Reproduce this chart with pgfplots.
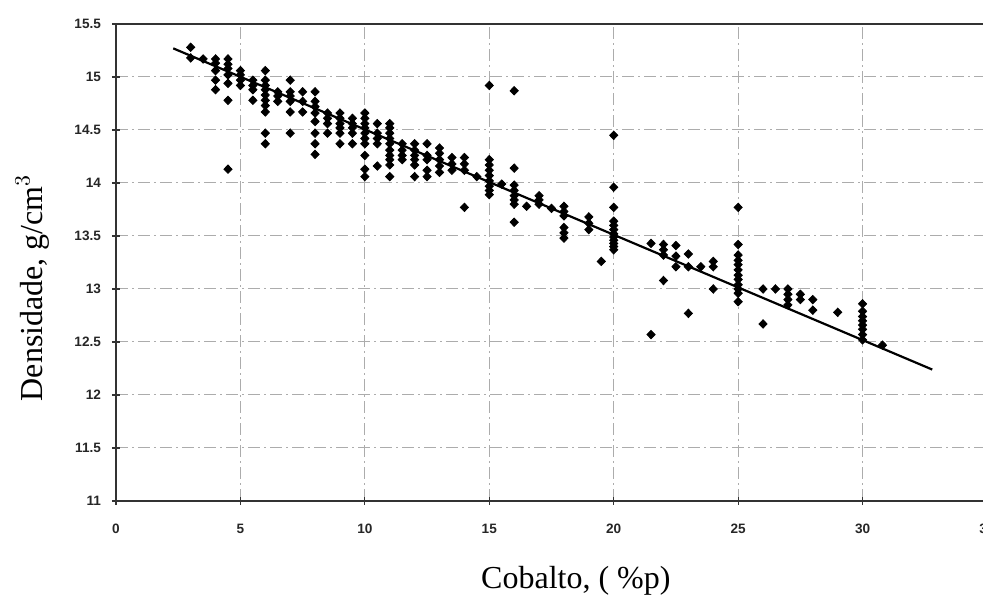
\documentclass[border=0pt]{standalone}
\usepackage{pgfplots}
\pgfplotsset{compat=1.18}
\usepackage{fontspec}
\setmainfont{Liberation Serif}
\setsansfont{Liberation Sans}

\pgfplotstableread{
x y
3 15.28
3 15.18
3.5 15.17
4 15.17
4 15.13
4 15.06
4 14.97
4 14.88
4.5 15.17
4.5 15.12
4.5 15.08
4.5 15.02
4.5 14.94
4.5 14.78
4.5 14.13
5 15.06
5 15.02
5 14.97
5 14.92
5.5 14.97
5.5 14.92
5.5 14.88
5.5 14.78
6 15.06
6 14.97
6 14.92
6 14.88
6 14.83
6 14.78
6 14.73
6 14.67
6 14.47
6 14.37
6.5 14.86
6.5 14.82
6.5 14.77
7 14.97
7 14.86
7 14.82
7 14.77
7 14.67
7 14.47
7.5 14.86
7.5 14.77
7.5 14.67
8 14.86
8 14.77
8 14.72
8 14.66
8 14.58
8 14.47
8 14.37
8 14.27
8.5 14.66
8.5 14.61
8.5 14.56
8.5 14.47
9 14.66
9 14.61
9 14.56
9 14.52
9 14.47
9 14.37
9.5 14.61
9.5 14.56
9.5 14.52
9.5 14.47
9.5 14.37
10 14.66
10 14.61
10 14.56
10 14.52
10 14.47
10 14.42
10 14.37
10 14.26
10 14.13
10 14.06
10.5 14.56
10.5 14.47
10.5 14.42
10.5 14.37
10.5 14.16
11 14.56
11 14.52
11 14.47
11 14.42
11 14.37
11 14.31
11 14.26
11 14.22
11 14.17
11 14.06
11.5 14.37
11.5 14.31
11.5 14.26
11.5 14.22
12 14.37
12 14.31
12 14.26
12 14.22
12 14.17
12 14.06
12.5 14.37
12.5 14.26
12.5 14.22
12.5 14.12
12.5 14.06
13 14.33
13 14.28
13 14.22
13 14.16
13 14.10
13.5 14.24
13.5 14.18
13.5 14.12
14 14.24
14 14.18
14 14.12
14 13.77
14.5 14.06
15 14.92
15 14.22
15 14.17
15 14.12
15 14.07
15 14.02
15 13.97
15 13.93
15 13.89
15.5 13.99
16 14.87
16 14.14
16 13.98
16 13.93
16 13.88
16 13.84
16 13.80
16 13.63
16.5 13.78
17 13.88
17 13.84
17 13.80
17.5 13.76
18 13.78
18 13.73
18 13.69
18 13.58
18 13.53
18 13.48
19 13.68
19 13.62
19 13.56
19.5 13.26
20 14.45
20 13.96
20 13.77
20 13.64
20 13.60
20 13.56
20 13.52
20 13.49
20 13.46
20 13.43
20 13.40
20 13.37
21.5 13.43
21.5 12.57
22 13.42
22 13.37
22 13.32
22 13.08
22.5 13.41
22.5 13.31
22.5 13.21
23 13.33
23 13.21
23 12.77
23.5 13.21
24 13.26
24 13.21
24 13.00
25 13.77
25 13.42
25 13.32
25 13.27
25 13.23
25 13.18
25 13.13
25 13.09
25 13.04
25 13.00
25 12.96
25 12.88
26 13.00
26 12.67
26.5 13.00
27 13.00
27 12.95
27 12.90
27 12.85
27.5 12.95
27.5 12.90
28 12.90
28 12.80
29 12.78
30 12.86
30 12.79
30 12.74
30 12.70
30 12.66
30 12.62
30 12.57
30 12.52
30.8 12.47
}\pts

\begin{document}
\begin{tikzpicture}
\begin{axis}[
  name=ax,
  scale only axis,
  width=435.5pt, height=238.5pt,
  xmin=0, xmax=35, ymin=11, ymax=15.5,
  xtick={0,5,...,35},
  ytick={11,11.5,...,15.5},
  grid=major,
  major grid style={gray!65, dash pattern=on 6pt off 2pt on 1pt off 2pt, line width=0.5pt},
  axis line style={black!80, line width=1pt},
  tick style={black!80, line width=0.6pt},
  tick align=center,
  major tick length=4pt,
  xtick pos=bottom, ytick pos=left,
  /pgf/number format/assume math mode=true,
  ticklabel style={font=\sffamily\bfseries\fontsize{6.8}{7}\selectfont, text=black!85},
  xticklabel style={yshift=-6pt},
  yticklabel style={xshift=-2pt},
  xlabel={Cobalto, ( \%p)},
  ylabel={Densidade, g/cm$^3$},
  label style={font=\fontsize{16}{18}\selectfont},
  xlabel style={at={(axis description cs:0.528,-0.168)}, anchor=center},
  ylabel style={at={(axis description cs:-0.096,0.447)}, anchor=center},
]
\addplot[only marks, mark=diamond*, mark size=2.1pt, mark options={xscale=1.3}, black] table[x=x, y=y] {\pts};
\addplot[black, line width=1.1pt] coordinates {(2.3,15.27) (32.8,12.24)};
\end{axis}
\pgfresetboundingbox
\path ([shift={(-58pt,-48pt)}]ax.south west) rectangle ([shift={(433.5pt,12pt)}]ax.north west);
\end{tikzpicture}
\end{document}
